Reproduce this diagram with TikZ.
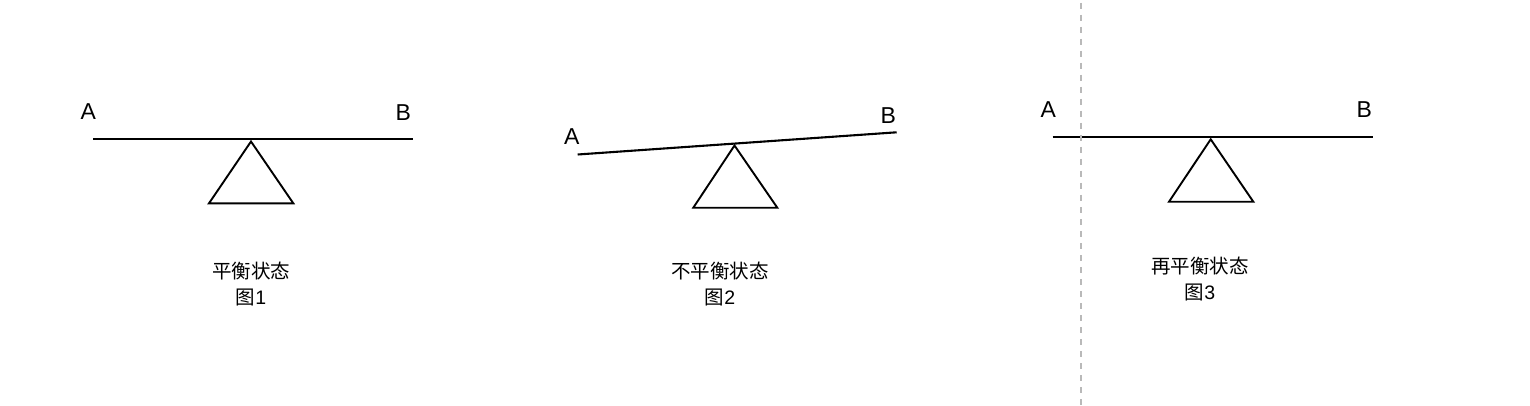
\documentclass[tikz,border=0pt]{standalone}
\usepackage{fontspec}
\setmainfont{Liberation Sans}
\newfontfamily\cjk{Noto Sans CJK SC}
\begin{document}
\begin{tikzpicture}[x=1pt,y=-1pt,
  beam/.style={line width=2.1pt},
  fulcrum/.style={line width=1.9pt, line join=miter},
  endlabel/.style={font=\fontsize{23}{26}\selectfont, inner sep=0pt},
  caption/.style={font=\fontsize{19.5}{26}\selectfont, align=center, inner sep=0pt},
  divider/.style={draw={rgb,255:red,185;green,185;blue,185}, line width=2pt, dash pattern=on 6pt off 6pt}]
\useasboundingbox (0,0) rectangle (1530,406);
\fill[white] (0,0) rectangle (1530,406);
% Figure 1
\coordinate (a1) at (93,139);
\coordinate (b1) at (413,139);
\draw[beam] (a1) -- (b1);
\draw[fulcrum] (251,141.5) -- (293.3,203.3) -- (209,203.3) -- cycle;
\node[endlabel] (la1) at (88.3,111.5) {A};
\node[endlabel] (lb1) at (403.3,112.5) {B};
\node[caption] (c1) at (251,284) {\cjk 平衡状态\\\cjk 图\rmfamily 1};
% Figure 2
\coordinate (a2) at (577.7,154.5);
\coordinate (b2) at (896.7,132.3);
\draw[beam] (a2) -- (b2);
\draw[fulcrum] (734.5,145.5) -- (777.3,207.7) -- (693.3,207.7) -- cycle;
\node[endlabel] (la2) at (571.7,137) {A};
\node[endlabel] (lb2) at (888.3,116) {B};
\node[caption] (c2) at (720,284) {\cjk 不平衡状态\\\cjk 图\rmfamily 2};
% Figure 3
\coordinate (a3) at (1052.7,136.7);
\coordinate (b3) at (1373.3,136.7);
\draw[beam] (a3) -- (b3);
\draw[fulcrum] (1210.7,139.3) -- (1253.3,201.7) -- (1169,201.7) -- cycle;
\node[endlabel] (la3) at (1048.3,109.3) {A};
\node[endlabel] (lb3) at (1364.3,110) {B};
\node[caption] (c3) at (1200,279) {\cjk 再平衡状态\\\cjk 图\rmfamily 3};
% divider
\coordinate (d1) at (1080.7,3);
\coordinate (d2) at (1080.7,406);
\draw[divider] (d1) -- (d2);
\end{tikzpicture}
\end{document}
